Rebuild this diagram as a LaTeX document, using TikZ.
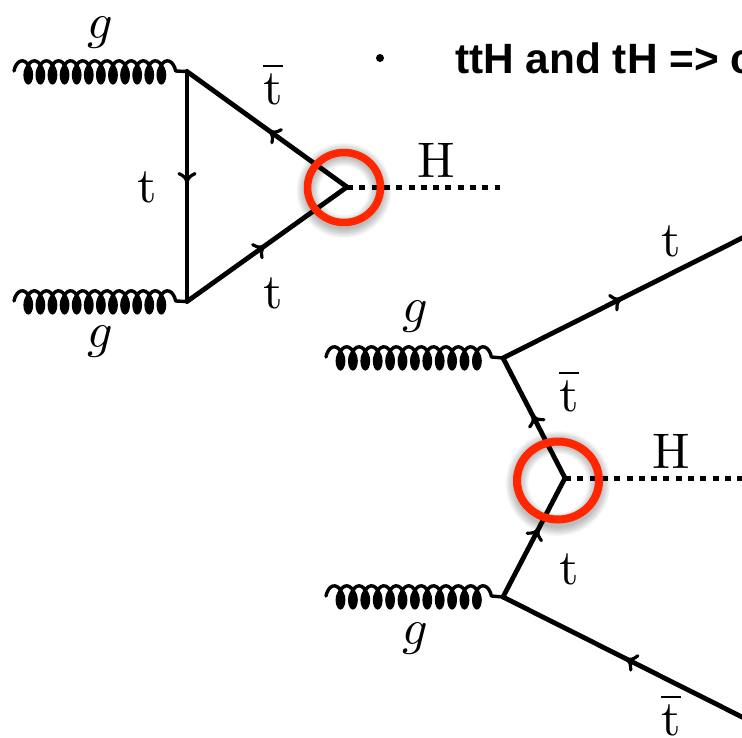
\documentclass[tikz,border=0pt]{standalone}
\usepackage{fontspec}
\newfontfamily\headfont{Liberation Sans}
\usetikzlibrary{decorations.markings}
\tikzset{
  fermion/.style={line width=4.8pt,line cap=round,postaction={decorate},
    decoration={markings,mark=at position #1 with {\draw[line width=3.2pt,line cap=round,line join=round,solid]
      (-6,8) .. controls (-3.5,3) and (-2,1) .. (3,0) .. controls (-2,-1) and (-3.5,-3) .. (-6,-8);}}},
  fermion/.default=0.5,
  scalar/.style={line width=5pt,dash pattern=on 6pt off 6.3pt},
  gluonline/.style={line width=3.4pt,line join=round,line cap=round},
  lab/.style={inner sep=0pt,scale=5,transform shape},
  redring/.style={draw={rgb,255:red,255;green,38;blue,0}}
}
% #1,#2 start, #3 pitch, #4 vertex it runs into
\newcommand{\gluonto}[4]{%
  \begin{scope}[shift={(#1,#2)}]
    \draw[gluonline] plot[domain=-90:{360*12+90},samples=240,smooth]
      ({(\x+90)/360*#3+5.2*sin(\x)+5.2},{-10.2*cos(\x)}) -- (#4);
    \foreach \k in {0,...,11}{
      \fill[black] ({0.75*#3+5.2+\k*#3},4) ellipse[x radius=4.9,y radius=9.6];
    }
  \end{scope}}
\newcommand{\shadowring}[4]{%
  \foreach \k in {0,...,7}{
    \draw[black,opacity=0.035,line width={#4+2.4*\k pt}] (#1,#2+3) circle[x radius=#3,y radius=#3];
  }}
\begin{document}
\begin{tikzpicture}[x=1pt,y=-1pt]
\useasboundingbox (0,0) rectangle (742,737);
\clip (0,0) rectangle (742,737);
\fill[white] (0,0) rectangle (742,737);
\shadowring{344}{187.5}{36}{6}
\shadowring{558}{480.5}{41}{6}
\coordinate (a1) at (187,71.5);
\coordinate (a2) at (187,301.5);
\coordinate (a3) at (347,187);
\coordinate (aH) at (500,187);
\gluonto{14}{71}{12.1}{a1}
\gluonto{14}{301}{12.1}{a2}
\draw[fermion=0.47] (a1) -- (a2);
\draw[fermion=0.47] (a3) -- (a1);
\draw[fermion=0.47] (a2) -- (a3);
\draw[scalar] (a3) -- (aH);
\coordinate (b1) at (503,358);
\coordinate (b2) at (503,597);
\coordinate (b3) at (565,478);
\coordinate (bH) at (742,478);
\coordinate (bt) at (760,229);
\coordinate (bb) at (760,726);
\gluonto{326}{357}{12.4}{b1}
\gluonto{326}{596}{12.4}{b2}
\draw[fermion=0.45] (b1) -- (bt);
\draw[fermion=0.51] (bb) -- (b2);
\draw[fermion=0.5] (b3) -- (b1);
\draw[fermion=0.55] (b2) -- (b3);
\draw[scalar] (b3) -- (bH);
\draw[redring,line width=7.5pt] (344,187.5) ellipse[x radius=36.5,y radius=35];
\draw[redring,line width=8pt] (558,480.5) ellipse[x radius=41,y radius=39];
\node[lab] (g1) at (100,33) {$g$};
\node[lab] (g2) at (100,342) {$g$};
\node[lab] (tb1) at (273,84) {$\overline{\mathrm{t}}$};
\node[lab] (t1) at (147,187) {t};
\node[lab] (H1) at (436,160) {H};
\node[lab] (t2) at (273,293) {t};
\node[lab] (g3) at (415,317) {$g$};
\node[lab] (g4) at (415,639) {$g$};
\node[lab] (t3) at (671,241) {t};
\node[lab] (tb2) at (569,391) {$\overline{\mathrm{t}}$};
\node[lab] (H2) at (671,451) {H};
\node[lab] (t4) at (569,569) {t};
\node[lab] (tb3) at (671,715) {$\overline{\mathrm{t}}$};
\node[circle,fill=black,inner sep=0pt,minimum size=8pt] (dot) at (380,58) {};
\node[anchor=base west,inner sep=0pt,font=\headfont\bfseries\fontsize{42.4}{42.4}\selectfont] (head) at (455,73) {ttH and tH => c};
\end{tikzpicture}
\end{document}
